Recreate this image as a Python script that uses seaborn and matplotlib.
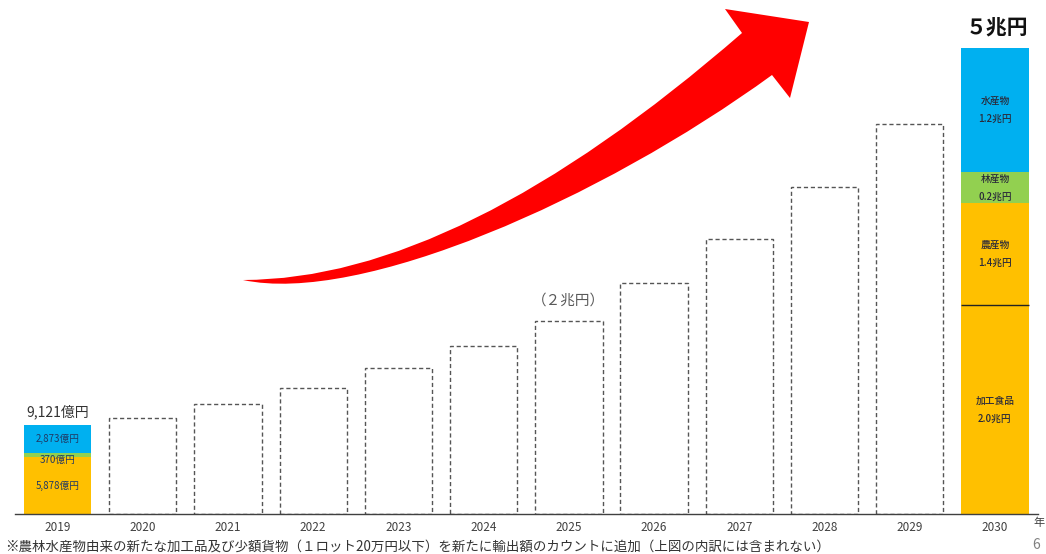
import numpy as np
import pandas as pd
import matplotlib
matplotlib.use("Agg")
import matplotlib.pyplot as plt
from matplotlib.path import Path
from matplotlib.patches import PathPatch
from matplotlib.transforms import Affine2D
import seaborn as sns

# ---------------- data ----------------
years = ['2019', '2020', '2021', '2022', '2023', '2024', '2025',
         '2026', '2027', '2028', '2029', '2030']
# target path (dashed outline bars), 億円
future_years = ['2020', '2021', '2022', '2023', '2024',
                '2025', '2026', '2027', '2028', '2029']
future_totals = [9900, 11300, 13000, 15000, 17300, 19900, 23800, 28300, 33700, 40200]

# 2019 actual breakdown (億円)
cats_2019 = ['農産物', '林産物', '水産物']
vals_2019 = [5878, 370, 2873]
labels_2019 = ['5,878億円', '370億円', '2,873億円']
total_label_2019 = '9,121億円'

# 2030 target breakdown (億円, as drawn)
cats_2030 = ['加工食品', '農産物', '林産物', '水産物']
vals_2030 = [21500, 10500, 3200, 12800]
labels_2030 = ['加工食品\n2.0兆円', '農産物\n1.4兆円', '林産物\n0.2兆円', '水産物\n1.2兆円']
total_label_2030 = '５兆円'
mid_label_2025 = '（２兆円）'

footnote = '※農林水産物由来の新たな加工品及び少額貨物（１ロット20万円以下）を新たに輸出額のカウントに追加（上図の内訳には含まれない）'

colors = {'加工食品': '#FFC000', '農産物': '#FFC000', '林産物': '#92D050', '水産物': '#00B0F0'}

# ---------------- style ----------------
sns.set_theme(style='white')
plt.rcParams['font.family'] = ['Noto Sans CJK JP', 'DejaVu Sans']

W, H = 1046, 554
fig = plt.figure(figsize=(W / 100, H / 100), dpi=100)
ax = fig.add_axes([14.9 / W, 40 / H, 1022.7 / W, 466 / H])

BAR_W = 0.79

# dashed outline bars
df_future = pd.DataFrame({'year': future_years, 'value': future_totals})
sns.barplot(data=df_future, x='year', y='value', order=years, color='white',
            saturation=1, width=BAR_W, errorbar=None, edgecolor='#555555',
            linewidth=1.0, linestyle=(0, (3, 2)), ax=ax)


def stacked(year, cats, vals):
    cum = np.cumsum(vals)
    # draw from top layer down so lower layers overlay
    for i in range(len(vals) - 1, -1, -1):
        d = pd.DataFrame({'year': [year], 'value': [cum[i]]})
        sns.barplot(data=d, x='year', y='value', order=years,
                    color=colors[cats[i]], saturation=1, width=BAR_W,
                    errorbar=None, linewidth=0, ax=ax)
    return cum


cum19 = stacked('2019', cats_2019, vals_2019)
cum30 = stacked('2030', cats_2030, vals_2030)

# divider line between 加工食品 and 農産物 in 2030
x30 = years.index('2030')
ax.plot([x30 - BAR_W / 2, x30 + BAR_W / 2], [cum30[0], cum30[0]],
        color='#222222', lw=1.0, solid_capstyle='butt', zorder=5)

# segment labels 2030
for i, lab in enumerate(labels_2030):
    bottom = cum30[i] - vals_2030[i]
    ax.text(x30, bottom + vals_2030[i] / 2, lab, ha='center', va='center',
            fontsize=7, fontweight='medium', color='#2a2a3a', linespacing=2.0, zorder=6)

# segment labels 2019
x19 = years.index('2019')
offsets = [0, -5, 0]
for i, lab in enumerate(labels_2019):
    bottom = cum19[i] - vals_2019[i]
    ax.annotate(lab, (x19, bottom + vals_2019[i] / 2), xytext=(0, offsets[i]),
                textcoords='offset pixels', ha='center', va='center',
                fontsize=7, color='#203864', zorder=6)

ax.annotate(total_label_2019, (x19, cum19[-1]), xytext=(0, 6),
            textcoords='offset pixels', ha='center', va='bottom',
            fontsize=10, color='#333333')
x25 = years.index('2025')
ax.annotate(mid_label_2025, (x25, future_totals[future_years.index('2025')]),
            xytext=(0, 20), textcoords='offset pixels', ha='center', va='center',
            fontsize=10.5, color='#595959')
ax.annotate(total_label_2030, (x30, cum30[-1]), xytext=(2, 20),
            textcoords='offset pixels', ha='center', va='center',
            fontsize=15, fontweight='bold', color='#111111')

# axes cosmetics
ax.set_xlim(-0.5, len(years) - 0.5)
ax.set_ylim(0, 48000)
ax.set_xlabel('')
ax.set_ylabel('')
ax.set_yticks([])
for s in ['top', 'right', 'left']:
    ax.spines[s].set_visible(False)
ax.spines['bottom'].set_color('#404040')
ax.spines['bottom'].set_linewidth(1.0)
ax.spines['bottom'].set_zorder(10)
ax.tick_params(axis='x', length=0, pad=5, labelsize=8.5, labelcolor='#404040')
ax.set_facecolor('white')

fig.text(1039 / W, 1 - 523 / H, '年', ha='center', va='center', fontsize=8, color='#404040')
fig.text(5 / W, 1 - 547 / H, footnote, ha='left', va='center', fontsize=9.7, color='#333333')
fig.text(1036 / W, 1 - 545 / H, '6', ha='center', va='center', fontsize=10, color='#808080')

# big red curved arrow (decoration, in pixel coordinates of the figure)
verts = [(243, 280), (458, 280), (742, 33),
         (725, 9), (809, 22), (790, 98), (772, 75),
         (600, 200), (360, 305), (243, 280), (243, 280)]
codes = [Path.MOVETO, Path.CURVE3, Path.CURVE3,
         Path.LINETO, Path.LINETO, Path.LINETO, Path.LINETO,
         Path.CURVE4, Path.CURVE4, Path.CURVE4, Path.CLOSEPOLY]
tr = Affine2D().scale(1 / W, -1 / H).translate(0, 1) + fig.transFigure
arrow = PathPatch(Path(verts, codes), facecolor='#FF0000', edgecolor='none',
                  transform=tr, zorder=20)
fig.add_artist(arrow)

fig.savefig('out.png', dpi=100, facecolor='white')
